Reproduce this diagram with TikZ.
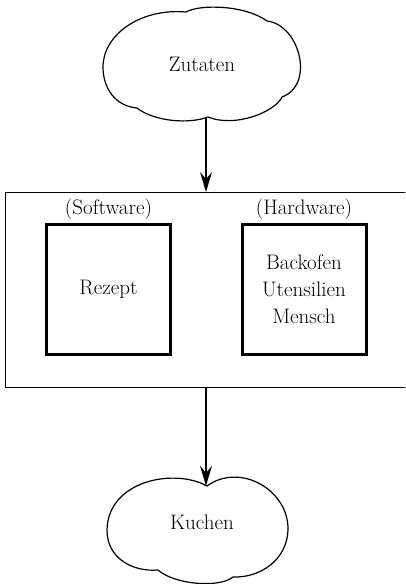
\documentclass[tikz,border=0pt]{standalone}
\usepackage{fontspec}
\setmainfont{Latin Modern Roman}
\usetikzlibrary{arrows.meta}
\begin{document}
\begin{tikzpicture}[x=1pt,y=-1pt,
  txt/.style={font=\fontsize{21}{27}\selectfont, inner sep=0pt, align=center},
  anchorbox/.style={draw=none, inner sep=0pt},
  cloudline/.style={draw, line width=1.2pt, line join=round},
  inner/.style={draw, line width=3pt, minimum width=124pt, minimum height=130pt, inner sep=0pt, align=center, txt},
  frame/.style={draw, line width=1.2pt, inner sep=0pt},
  arr/.style={line width=1.2pt, -{Stealth[length=20pt,width=12pt,inset=7pt]}},
]
\useasboundingbox (0,0) rectangle (405,584);
\clip (0,0) rectangle (405,584);
% top cloud
\path[cloudline] (137,108) .. controls (115,106) and (103,88) .. (103,67)
  .. controls (103,35) and (140,8) .. (186,12)
  .. controls (200,4) and (245,5) .. (267,21)
  .. controls (300,25) and (315,85) .. (282,97)
  .. controls (275,112) and (235,128) .. (208,117)
  .. controls (190,124) and (155,122) .. cycle;
\node[anchorbox, minimum width=199pt, minimum height=106pt] (inc) at (206,65) {};
\node[txt] (in) at (202,64) {Zutaten};
% system frame
\node[frame, minimum width=420pt, minimum height=195pt, anchor=north west] (sys) at (5,192) {};
\node[inner] (sw) at (108.5,289.5) {Rezept};
\node[inner] (hw) at (304,289.5) {Backofen\\Utensilien\\Mensch};
\node[txt] (swl) at (108.5,209) {(Software)};
\node[txt] (hwl) at (304,209) {(Hardware)};
% bottom cloud
\path[cloudline] (207,486) .. controls (175,468) and (108,480) .. (107,530)
  .. controls (107,560) and (135,572) .. (158,570)
  .. controls (175,585) and (220,588) .. (233,577)
  .. controls (260,578) and (287,560) .. (288,530)
  .. controls (289,490) and (240,462) .. cycle;
\node[anchorbox, minimum width=181pt, minimum height=88pt] (outc) at (206,530) {};
\node[txt] (out) at (202,522) {Kuchen};
% arrows
\draw[arr] (inc.south) -- (inc.south |- sys.north);
\draw[arr] (sys.south -| outc.north) -- (outc.north);
\end{tikzpicture}
\end{document}
